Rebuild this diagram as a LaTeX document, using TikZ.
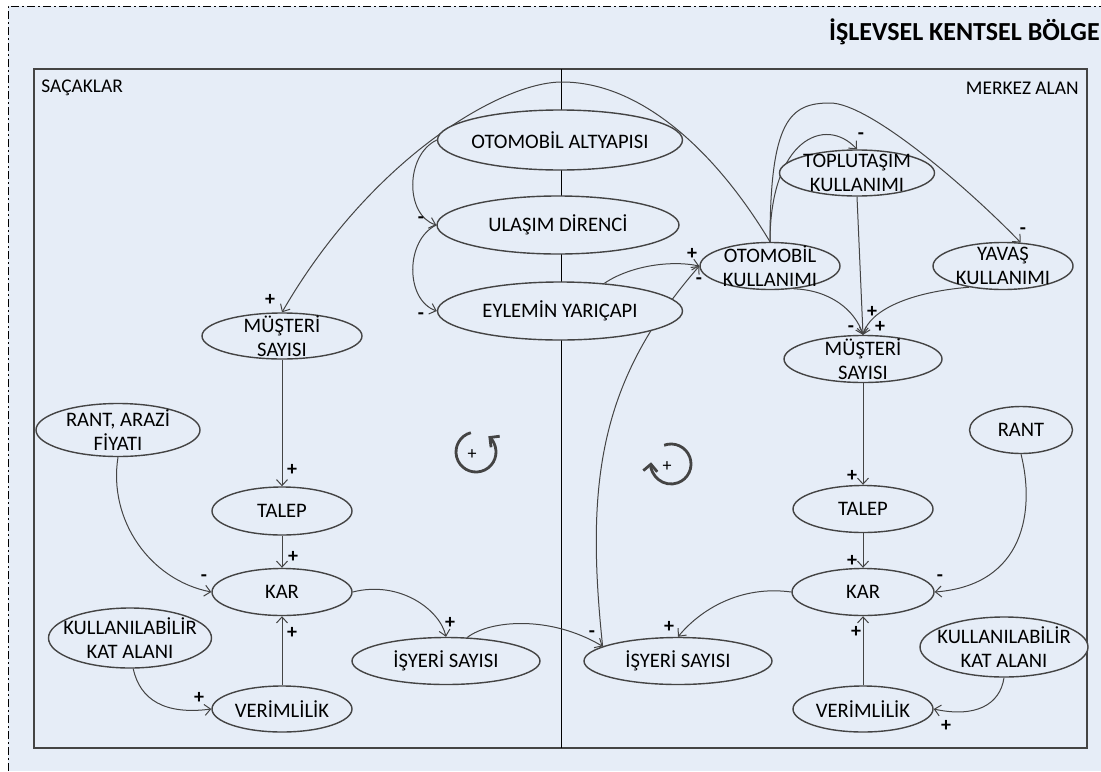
\documentclass[tikz,border=0pt]{standalone}
\usepackage{fontspec}
\setmainfont{Carlito}
\usetikzlibrary{shapes.geometric,arrows.meta,backgrounds}
\definecolor{zemin}{RGB}{230,237,247}
\definecolor{koyu}{RGB}{68,68,68}

\begin{document}
\begin{tikzpicture}[x=0.5pt,y=-0.5pt,>={Straight Barb[length=3pt,width=5.5pt]},
  oval/.style={ellipse,draw=koyu,line width=0.7pt,fill=zemin,inner sep=-30pt,
    align=center,font=\fontsize{10.3}{11.8}\selectfont},
  bag/.style={draw=koyu,line width=0.5pt,->},
  isaret/.style={font=\fontsize{10}{10}\selectfont\bfseries,inner sep=0pt},
  dongu/.style={draw=koyu,line width=1.4pt,-{Straight Barb[length=3.5pt,width=7pt]}},
  yazi/.style={font=\fontsize{9.7}{11.6}\selectfont,inner sep=0pt}]

  \useasboundingbox (0,0) rectangle (1101,771);

  % nodes: middle column
  \node[oval,minimum width=122.5pt,minimum height=30pt] (altyapi) at (560,140) {OTOMOBİL ALTYAPISI};
  \node[oval,minimum width=121pt,minimum height=29pt] (direnc) at (558,225) {ULAŞIM DİRENCİ};
  \node[oval,minimum width=122.5pt,minimum height=29pt] (yaricap) at (560,311) {EYLEMİN YARIÇAPI};

  % nodes: fringe
  \node[oval,minimum width=80pt,minimum height=23pt] (musL) at (282,336) {MÜŞTERİ\\SAYISI};
  \node[oval,minimum width=82pt,minimum height=26.5pt] (rantL) at (118,430) {RANT, ARAZİ\\FİYATI};
  \node[oval,minimum width=70pt,minimum height=24pt] (talepL) at (282,511) {TALEP};
  \node[oval,minimum width=70pt,minimum height=23.5pt] (karL) at (282,592) {KAR};
  \node[oval,minimum width=81.5pt,minimum height=30pt] (katL) at (130,638) {KULLANILABİLİR\\KAT ALANI};
  \node[oval,minimum width=70pt,minimum height=23pt] (verL) at (282,709) {VERİMLİLİK};
  \node[oval,minimum width=94pt,minimum height=23.5pt] (isL) at (446,661) {İŞYERİ SAYISI};

  % nodes: centre
  \node[oval,minimum width=70pt,minimum height=23.5pt] (otokul) at (770,266) {OTOMOBİL\\KULLANIMI};
  \node[oval,minimum width=77.5pt,minimum height=23pt] (toplu) at (857,173) {TOPLUTAŞIM\\KULLANIMI};
  \node[oval,minimum width=70pt,minimum height=23.5pt] (yavas) at (1003,266) {YAVAŞ\\KULLANIMI};
  \node[oval,minimum width=79pt,minimum height=23.5pt] (musR) at (863,359) {MÜŞTERİ\\SAYISI};
  \node[oval,minimum width=51.5pt,minimum height=23.5pt] (rantR) at (1021,430) {RANT};
  \node[oval,minimum width=70pt,minimum height=23.5pt] (talepR) at (863,509) {TALEP};
  \node[oval,minimum width=71pt,minimum height=23.5pt] (karR) at (863,592) {KAR};
  \node[oval,minimum width=84pt,minimum height=30pt] (katR) at (1004,647) {KULLANILABİLİR\\KAT ALANI};
  \node[oval,minimum width=70pt,minimum height=23pt] (verR) at (863,709) {VERİMLİLİK};
  \node[oval,minimum width=94pt,minimum height=23.5pt] (isR) at (678,661) {İŞYERİ SAYISI};

  \node[yazi,anchor=west] (sacak) at (41,88) {SAÇAKLAR};
  \node[yazi,anchor=east] (merkez) at (1079,88) {MERKEZ ALAN};
  \node[inner sep=0pt,anchor=east,font=\fontsize{13}{13}\selectfont\bfseries] (baslik) at (1100,32) {İŞLEVSEL KENTSEL BÖLGE};

  \coordinate (tepe) at (562,82);
  \coordinate (tepe2) at (830,103);

  \begin{pgfonlayer}{background}
    \fill[white] (0,0) rectangle (1101,771);
    \fill[zemin] (8,6) rectangle (1101,771);
    \draw[line width=0.5pt,dash pattern=on 4pt off 1.5pt on 1pt off 1.5pt] (8,771) |- (1101,6);
    \draw[koyu,line width=0.8pt] (34,69) rectangle (1087,748);
    \draw[line width=0.5pt] (561,69) -- (561,748);

    % connectors
    \draw[bag] (altyapi.west) .. controls (405,155) and (405,215) .. (direnc.west);
    \draw[bag] (direnc.west) .. controls (405,240) and (405,300) .. (yaricap.west);
    \draw[bag] (yaricap.32) .. controls (630,266) and (670,260) .. (otokul.west);
    \draw[bag] (isR.169) .. controls (585,480) and (600,380) .. (otokul.west);
    \draw[bag] (otokul.north) .. controls (715,150) and (640,82) .. (tepe)
      .. controls (500,82) and (370,160) .. (musL.north);
    \draw[bag] (otokul.north) .. controls (770,140) and (825,115) .. (toplu.north);
    \draw[bag] (otokul.north) .. controls (770,120) and (790,103) .. (tepe2)
      .. controls (870,103) and (970,190) .. (yavas.53);
    \draw[bag] (otokul.-44) .. controls (830,290) and (855,310) .. (musR.north);
    \draw[bag] (toplu.south) -- (musR.north);
    \draw[bag] (yavas.-148) .. controls (910,292) and (870,310) .. (musR.north);

    \draw[bag] (musL.south) -- (talepL.north);
    \draw[bag] (talepL.south) -- (karL.north);
    \draw[bag] (rantL.south) .. controls (108,520) and (150,580) .. (karL.west);
    \draw[bag] (verL.north) -- (karL.south);
    \draw[bag] (katL.-84) .. controls (140,700) and (165,715) .. (verL.west);
    \draw[bag] (karL.east) .. controls (400,580) and (440,610) .. (isL.north);
    \draw[bag] (isL.48) .. controls (490,620) and (550,615) .. (isR.169);

    \draw[bag] (musR.south) -- (talepR.north);
    \draw[bag] (talepR.south) -- (karR.north);
    \draw[bag] (rantR.south) .. controls (1035,510) and (1025,585) .. (karR.east);
    \draw[bag] (verR.north) -- (karR.south);
    \draw[bag] (katR.south) .. controls (1000,705) and (975,718) .. (verR.east);
    \draw[bag] (karR.west) .. controls (740,585) and (700,610) .. (isR.north);
  \end{pgfonlayer}

  % polarity signs
  \foreach \ad/\x/\y/\s in {a/421/220/-,b/421/316/-,c/692/254/+,d/699/281/-,e/270/300/+,
      f/861/136/-,g/1023/231/-,h/872/312/+,i/851/329/-,j/880/327/+,k/292/470/+,
      l/293/557/+,m/204/578/-,n/292/633/+,o/199/698/+,p/450/623/+,q/592/634/-,
      r/852/476/+,s/852/561/+,t/940/578/-,u/856/632/+,v/946/726/+,w/669/627/+}
    \node[isaret] (s\ad) at (\x,\y) {\s};

  % loop symbols
  \begin{scope}[shift={(476,452)},x=0.5pt,y=0.5pt]
    \draw[dongu] (105:20) arc[start angle=105,end angle=412,radius=20];
    \node[isaret,font=\fontsize{9}{9}\selectfont] (dongu1) at (-4,-3) {+};
  \end{scope}
  \begin{scope}[shift={(671,464)},x=0.5pt,y=0.5pt]
    \draw[dongu] (110:20) arc[start angle=110,end angle=-185,radius=20];
    \node[isaret,font=\fontsize{9}{9}\selectfont] (dongu2) at (-4,-3) {+};
  \end{scope}
\end{tikzpicture}
\end{document}
